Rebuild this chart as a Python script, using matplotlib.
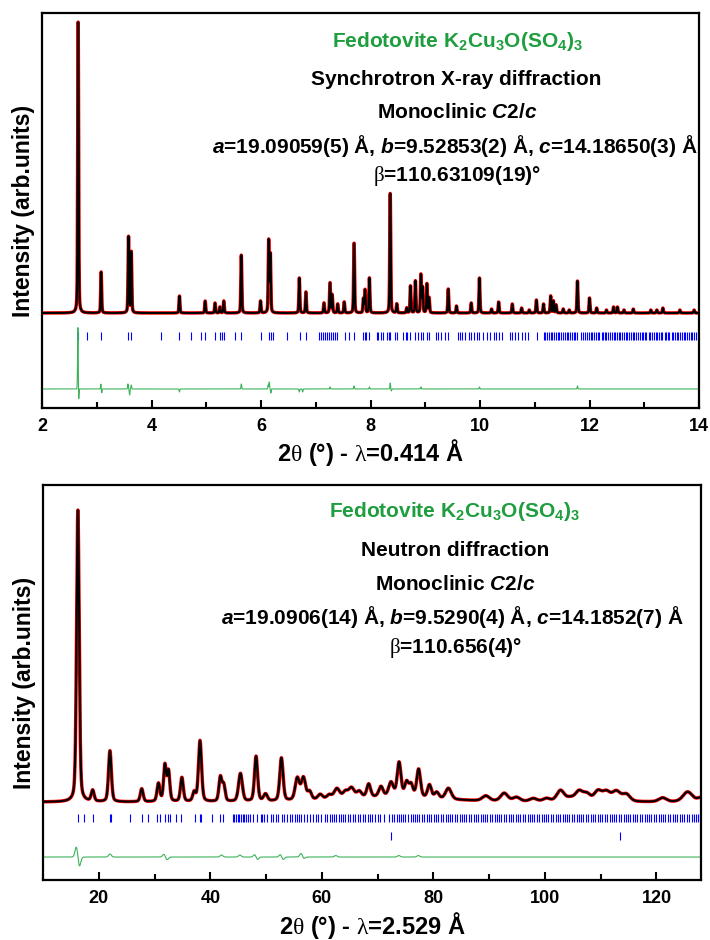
import numpy as np
import matplotlib.pyplot as plt
from matplotlib.ticker import MultipleLocator

plt.rcParams['font.family'] = ['Liberation Sans', 'DejaVu Sans']
plt.rcParams['mathtext.fontset'] = 'custom'
plt.rcParams['mathtext.rm'] = 'Liberation Sans:bold'
plt.rcParams['mathtext.bf'] = 'Liberation Sans:bold'
plt.rcParams['mathtext.it'] = 'Liberation Sans:bold:italic'
plt.rcParams['mathtext.sf'] = 'Liberation Serif'

# ---------------- synchrotron X-ray data ----------------
# peak positions (2theta, deg) and heights above background (arb.)
sx_pos = [2.66, 3.08, 3.58, 3.63, 4.51, 4.98, 5.16, 5.25, 5.32, 5.64,
          5.99, 6.14, 6.17, 6.70, 6.82, 7.15, 7.26, 7.30, 7.40, 7.52,
          7.70, 7.87, 7.90, 7.98, 8.36, 8.48, 8.66, 8.73, 8.82, 8.92,
          8.95, 9.03, 9.07, 9.42, 9.57, 9.84, 9.99, 10.21, 10.34, 10.59,
          10.76, 10.90, 11.03, 11.16, 11.29, 11.34, 11.39, 11.52, 11.63, 11.78,
          12.00, 12.13, 12.31, 12.44, 12.51, 12.63, 12.80, 13.12, 13.23, 13.34,
          13.65, 13.91]
sx_hgt = [291, 41, 76, 61, 17, 12, 10, 6, 12, 58,
          12, 72, 58, 35, 21, 10, 30, 18, 9, 11,
          70, 14, 23, 35, 120, 9, 5, 27, 32, 38,
          25, 29, 15, 24, 7, 10, 35, 4, 11, 9,
          5, 3, 13, 9, 17, 12, 8, 4, 3, 32,
          15, 5, 3, 6, 6, 3, 4, 3, 3, 5,
          3, 3]
sx_fwhm = 0.02

# residual features (obs - calc): position, amplitude, sigma
sx_dpos = [2.655, 2.668, 3.075, 3.09, 3.57, 3.60, 3.63, 4.51, 5.64, 6.13, 6.15, 6.18,
           6.70, 6.76, 7.26, 7.70, 7.98, 8.36, 8.38, 8.92, 9.99, 11.78]
sx_damp = [63, -13, 5, -4, 5, -6, 4, -3, 5, 4, 7, -4,
           -3, -3, 2, 3, 2, 6, -2, 2, 2, 3]
sx_dsig = 0.006

sx_ticks = [2.652, 2.827, 3.083, 3.576, 3.620, 4.179, 4.508, 4.716, 4.910, 4.972,
            5.154, 5.251, 5.288, 5.324, 5.525, 5.635, 6.000, 6.141, 6.183, 6.214,
            6.475, 6.707, 6.816, 7.059, 7.096, 7.127, 7.169, 7.205, 7.242, 7.279,
            7.315, 7.352, 7.388, 7.540, 7.602, 7.704, 7.87, 7.90, 7.92, 7.98,
            8.11, 8.14, 8.19, 8.23, 8.30, 8.33, 8.36, 8.45, 8.49, 8.60,
            8.64, 8.67, 8.73, 8.82, 8.86, 8.92, 8.95, 9.03, 9.07, 9.20,
            9.24, 9.28, 9.36, 9.42, 9.59, 9.63, 9.68, 9.73, 9.79, 9.84,
            9.89, 9.94, 9.99, 10.05, 10.12, 10.18, 10.26, 10.30, 10.34, 10.40,
            10.54, 10.59, 10.64, 10.70, 10.76, 10.82, 10.88, 11.04, 11.16, 11.19,
            11.23, 11.26, 11.29, 11.32, 11.35, 11.38, 11.42, 11.45, 11.48, 11.51,
            11.55, 11.58, 11.61, 11.64, 11.68, 11.71, 11.74, 11.78, 11.85, 11.89,
            11.92, 11.95, 11.99, 12.02, 12.05, 12.08, 12.12, 12.15, 12.18, 12.22,
            12.25, 12.28, 12.31, 12.34, 12.37, 12.41, 12.44, 12.47, 12.50, 12.53,
            12.56, 12.60, 12.63, 12.66, 12.69, 12.73, 12.76, 12.79, 12.82, 12.85,
            12.88, 12.92, 12.95, 12.98, 13.01, 13.04, 13.08, 13.11, 13.14, 13.17,
            13.21, 13.24, 13.27, 13.30, 13.33, 13.37, 13.40, 13.43, 13.46, 13.50,
            13.53, 13.56, 13.59, 13.62, 13.66, 13.69, 13.72, 13.75, 13.78, 13.82,
            13.85, 13.88, 13.91, 13.94, 13.98]

# ---------------- neutron data ----------------
nd_pos = [16.25, 18.9, 22.0, 27.7, 30.7, 31.85, 32.5, 34.9, 37.1, 38.15,
          41.8, 42.4, 45.4, 48.2, 49.9, 52.75, 55.6, 56.7, 57.8, 59.7,
          61.3, 62.7, 64.2, 65.3, 66.7, 68.4, 70.6, 72.4, 73.85, 75.2,
          76.0, 77.35, 79.3, 80.6, 82.7, 89.4, 92.7, 94.9, 97.9, 100.3,
          102.8, 104.5, 106.1, 107.5, 109.5, 111.0, 112.8, 114.6, 121.1, 125.6,
          128.0, 72.0]
nd_hgt = [292, 11, 51, 13, 18, 36, 30, 24, 9, 61,
          24, 16, 28, 45, 7, 43, 22, 22, 8, 5,
          4, 10, 6, 10, 6, 13, 10, 14, 34, 14,
          12, 28, 13, 6, 11, 5, 8, 4, 3, 3,
          11, 3, 10, 7, 10, 9, 10, 7, 4, 10,
          4, 5]
nd_fwhm = [0.55, 0.6, 0.6, 0.6, 0.6, 0.55, 0.55, 0.6, 0.6, 0.65,
           0.6, 0.6, 0.8, 0.65, 0.8, 0.7, 0.9, 0.9, 0.8, 1.0,
           1.0, 1.2, 1.0, 1.2, 1.0, 0.8, 0.9, 1.0, 0.8, 0.8,
           0.8, 0.8, 0.8, 0.9, 1.2, 1.5, 1.5, 1.5, 1.5, 1.5,
           1.6, 1.5, 1.6, 1.5, 1.6, 1.6, 1.8, 1.6, 1.6, 2.0,
           1.5, 22.0]

nd_dpos = [16.0, 16.5, 22.0, 31.7, 32.2, 42.0, 45.3, 48.0, 48.4, 52.6, 53.0, 56.3, 56.7,
           62.5, 73.8, 77.3]
nd_damp = [11, -10, 3, 3, -3, 2, 2, 3, -3, 3, -3, 4, -2, 1.5, 1.5, 1.5]
nd_dsig = 0.25

nd_ticks = [16.25, 17.4, 18.9, 22.0, 22.2, 25.6, 27.7, 28.9, 30.4, 30.9,
            31.8, 32.4, 32.7, 33.9, 34.8, 37.2, 38.1, 38.3, 40.3, 41.8,
            42.3, 44.0, 44.3, 44.6, 44.9, 45.2, 45.5, 45.8, 46.1, 46.4,
            46.7, 47.2, 47.7, 48.3, 49.0, 49.3, 49.7, 50.2, 50.8, 51.3,
            51.7, 52.2, 52.8, 53.3, 53.7, 54.2, 54.6, 55.1, 55.5, 55.9,
            56.3, 56.8, 57.3, 57.8, 58.4, 58.9, 59.3, 59.8, 60.5, 61.0,
            61.4, 61.8, 62.2, 62.6, 63.0, 63.4, 63.8, 64.2, 64.6, 65.0,
            65.5, 66.0, 66.4, 66.8, 67.3, 67.8, 68.2, 68.6, 69.0, 69.5,
            70.0, 70.5, 71.2, 72.0, 72.5, 73.0, 73.4, 73.8, 74.2, 74.6,
            75.0, 75.4, 75.9, 76.3, 76.7, 77.1, 77.5, 78.0, 78.4, 78.8,
            79.2, 79.6, 80.1, 80.5, 80.9, 81.3, 81.7, 82.2, 82.6, 83.0,
            83.4, 83.8, 84.3, 84.7, 85.1, 85.5, 85.9, 86.4, 86.8, 87.2,
            87.6, 88.0, 88.5, 88.9, 89.3, 89.7, 90.1, 90.6, 91.0, 91.4,
            91.8, 92.2, 92.7, 93.1, 93.5, 93.9, 94.3, 94.8, 95.2, 95.6,
            96.0, 96.4, 96.9, 97.3, 97.7, 98.1, 98.5, 99.0, 99.4, 99.8,
            100.2, 100.6, 101.1, 101.5, 101.9, 102.3, 102.7, 103.2, 103.6, 104.0,
            104.4, 104.8, 105.3, 105.7, 106.1, 106.5, 106.9, 107.4, 107.8, 108.2,
            108.6, 109.0, 109.5, 109.9, 110.3, 110.7, 111.1, 111.6, 112.0, 112.4,
            112.8, 113.2, 113.7, 114.1, 114.5, 114.9, 115.3, 115.8, 116.2, 116.6,
            117.0, 117.4, 117.9, 118.3, 118.7, 119.1, 119.5, 120.0, 120.4, 120.8,
            121.2, 121.6, 122.1, 122.5, 122.9, 123.3, 123.7, 124.2, 124.6, 125.0,
            125.4, 125.8, 126.3, 126.7, 127.1, 127.5, 127.9]
nd_ticks2 = [72.4, 113.4]


def pvoigt(x, pos, hgt, fwhm, eta=0.35):
    y = np.zeros_like(x)
    fwhm = np.broadcast_to(fwhm, (len(pos),))
    for p, h, w in zip(pos, hgt, fwhm):
        d = (x - p) / (w / 2)
        y += h * (eta / (1 + d ** 2) + (1 - eta) * np.exp(-np.log(2) * d ** 2))
    return y


def resid(x, pos, amp, sig):
    y = np.zeros_like(x)
    for p, a in zip(pos, amp):
        y += a * np.exp(-0.5 * ((x - p) / sig) ** 2)
    return y


def panel(ax, x, calc, diff, ticks, tick_y, diff_off, ticks2=None, tick2_y=None):
    # observed points sit on the calculated curve (only a thin red rim shows)
    ax.plot(x, calc, color='red', lw=2.5, zorder=2)
    ax.plot(x, calc, color='black', lw=1.5, zorder=3)
    ax.plot(ticks, np.full(len(ticks), tick_y), ls='none', marker='|',
            ms=6, mew=0.8, color='blue', zorder=2)
    if ticks2 is not None:
        ax.plot(ticks2, np.full(len(ticks2), tick2_y), ls='none', marker='|',
                ms=6, mew=0.8, color='blue', zorder=2)
    ax.plot(x, diff + diff_off, color='#3cb35a', lw=0.8, zorder=2)
    ax.set_yticks([])
    ax.tick_params(axis='x', which='both', direction='in', top=False,
                   labelsize=13, width=1.5, pad=7)
    ax.tick_params(axis='x', which='major', length=6)
    ax.tick_params(axis='x', which='minor', length=4)
    for s in ax.spines.values():
        s.set_linewidth(1.6)
    ax.set_ylabel('Intensity (arb.units)', fontsize=16.5, fontweight='bold', labelpad=5)


fig = plt.figure(figsize=(7.1, 9.4), dpi=100)
ax1 = fig.add_axes([0.0592, 0.566, 0.9253, 0.420])
ax2 = fig.add_axes([0.0606, 0.0638, 0.9268, 0.420])

# top panel: synchrotron
x1 = np.linspace(2, 14, 8000)
c1 = pvoigt(x1, sx_pos, sx_hgt, sx_fwhm)
d1 = resid(x1, sx_dpos, sx_damp, sx_dsig)
panel(ax1, x1, c1, d1, sx_ticks, -23, -76)
ax1.set_xlim(2, 14)
ax1.set_ylim(-95, 300)
ax1.xaxis.set_major_locator(MultipleLocator(2))
ax1.xaxis.set_minor_locator(MultipleLocator(1))
ax1.set_xlabel(r'2$\mathsf{θ}$ (°) - $\mathsf{λ}$=0.414 Å', fontsize=17,
               fontweight='bold', labelpad=2)

# bottom panel: neutron
x2 = np.linspace(10, 128, 6000)
c2 = pvoigt(x2, nd_pos, nd_hgt, nd_fwhm)
d2 = resid(x2, nd_dpos, nd_damp, nd_dsig)
panel(ax2, x2, c2, d2, nd_ticks, -16, -55, nd_ticks2, -34)
ax2.set_xlim(10, 128)
ax2.set_ylim(-78, 317)
ax2.xaxis.set_major_locator(MultipleLocator(20))
ax2.xaxis.set_minor_locator(MultipleLocator(10))
ax2.set_xlabel(r'2$\mathsf{θ}$ (°) - $\mathsf{λ}$=2.529 Å', fontsize=17,
               fontweight='bold', labelpad=2)
for ax in (ax1, ax2):
    for lab in ax.get_xticklabels():
        lab.set_fontweight('bold')

green = '#1e9e3e'
formula = r'Fedotovite K$_\mathrm{2}$Cu$_\mathrm{3}$O(SO$_\mathrm{4}$)$_\mathrm{3}$'
tk = dict(fontsize=15, fontweight='bold', ha='center', va='center')

ax1.text(0.632, 0.929, formula, transform=ax1.transAxes, color=green, **tk)
ax1.text(0.630, 0.833, 'Synchrotron X-ray diffraction', transform=ax1.transAxes, **tk)
ax1.text(0.632, 0.749, r'Monoclinic $C$2/$c$', transform=ax1.transAxes, **tk)
ax1.text(0.629, 0.663, r'$a$=19.09059(5) Å, $b$=9.52853(2) Å, $c$=14.18650(3) Å',
         transform=ax1.transAxes, **tk)
ax1.text(0.632, 0.587, r'$\mathsf{β}$=110.63109(19)°', transform=ax1.transAxes, **tk)

ax2.text(0.626, 0.934, formula, transform=ax2.transAxes, color=green, **tk)
ax2.text(0.626, 0.835, 'Neutron diffraction', transform=ax2.transAxes, **tk)
ax2.text(0.626, 0.749, r'Monoclinic $C$2/$c$', transform=ax2.transAxes, **tk)
ax2.text(0.622, 0.666, r'$a$=19.0906(14) Å, $b$=9.5290(4) Å, $c$=14.1852(7) Å',
         transform=ax2.transAxes, **tk)
ax2.text(0.627, 0.587, r'$\mathsf{β}$=110.656(4)°', transform=ax2.transAxes, **tk)

fig.savefig('out.png', dpi=100)
